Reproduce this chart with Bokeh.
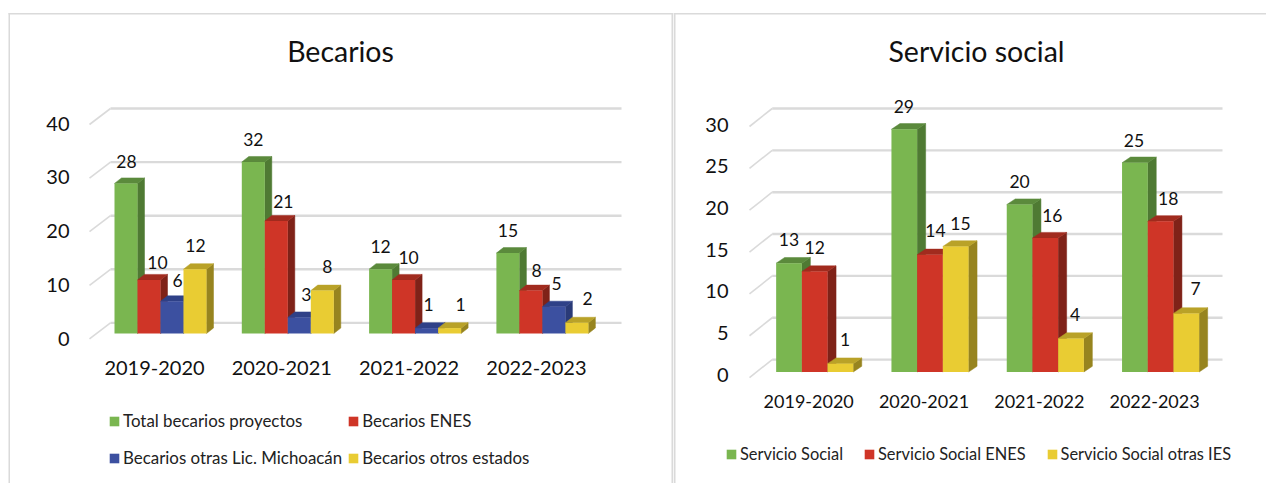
from bokeh.core.properties import value
from bokeh.embed import file_html
from bokeh.layouts import row
from bokeh.models import (BoxAnnotation, FixedTicker, Legend, LegendItem,
                          LinearAxis, Range1d)
from bokeh.plotting import figure
from bokeh.resources import INLINE

# ---------- data ----------
YEARS = ["2019-2020", "2020-2021", "2021-2022", "2022-2023"]

TOTAL_BECARIOS = [28, 32, 12, 15]
BECARIOS_ENES = [10, 21, 10, 8]
BECARIOS_MICH = [6, 3, 1, 5]
BECARIOS_ESTADOS = [12, 8, 1, 2]

SERVICIO = [13, 29, 20, 25]
SERVICIO_ENES = [12, 14, 16, 18]
SERVICIO_IES = [1, 15, 4, 7]

BECARIOS_NAMES = ["Total becarios proyectos", "Becarios ENES",
                  "Becarios otras Lic. Michoacán", "Becarios otros estados"]
SERVICIO_NAMES = ["Servicio Social", "Servicio Social ENES", "Servicio Social otras IES"]

BECARIOS_TICKS = [0, 10, 20, 30, 40]
SERVICIO_TICKS = [0, 5, 10, 15, 20, 25, 30]

# ---------- style ----------
FONT = "Lato"
GRID = "#dadada"
GREEN = ("#7ab650", "#4f7a33", "#5b8a3c")
RED = ("#cf3527", "#7f2218", "#a12b1e")
BLUE = ("#3c50a0", "#2a3a78", "#2f4188")
YELLOW = ("#e9cc33", "#97841f", "#b9a228")

# label shifts from a bar's top centre, in pixels (series by series)
BEC_SHIFT = [[(0.5, -22), (0, -22.5), (0, -22.7), (0, -22.6)],
             [(8.5, -17), (7, -19.5), (5, -22.4), (5.6, -20.6)],
             [(5.5, -21), (7, -23), (2, -24), (2.6, -23)],
             [(0.5, -24), (5, -24), (11, -24), (10.6, -23.8)]]
SER_SHIFT = [[(0, -23.7), (-0.5, -23), (0, -23.4), (-1, -22)],
             [(0, -24.4), (5.4, -24.3), (7, -22.6), (7.6, -23)],
             [(4.7, -24), (4.7, -23.3), (4, -24), (9.3, -24.6)]]

TOP = 0
BOTTOM = 483


def panel(title, title_x, left, right, series, names, colors, shifts, ticks,
          cx0, group_px, bar_px, depth, base, unit, tick_base, tick_unit,
          grid_x, grid_dy, tick_right, tick_size, year_y, year_size, legend_kw, legend_xy,
          border):
    p = figure(width=right - left, height=BOTTOM - TOP, output_backend="svg",
               toolbar_location=None, x_axis_type=None, y_axis_type=None, tools="",
               min_border=0, outline_line_color=None,
               background_fill_color="white", border_fill_color="white",
               x_range=Range1d((left - cx0) / group_px, (right - cx0) / group_px),
               y_range=Range1d((base - BOTTOM) / unit, (base - TOP) / unit))

    # y / x axes sit slightly apart from the bars' plane, as in a 3D chart
    p.extra_y_ranges = {"axis": Range1d((tick_base - BOTTOM) / tick_unit, (tick_base - TOP) / tick_unit)}
    p.extra_x_ranges = {"axis": Range1d((left - cx0 + 6) / group_px, (right - cx0 + 6) / group_px)}

    px_x = lambda x: (x - cx0) / group_px
    px_y = lambda y: (base - y) / unit

    p.text(x=[px_x(title_x)], y=[px_y(50.5)], text=[title], text_font=value(FONT),
           text_font_size="28.5px", text_color="#111111", text_align="center",
           text_baseline="middle")

    # back wall gridlines
    x_front, x_back, x_end = grid_x
    dy_front, dy_back = grid_dy
    p.multi_line([[px_x(x_front), px_x(x_back)] for _ in ticks],
                 [[t - dy_front / unit, t - dy_back / unit] for t in ticks],
                 line_color=GRID, line_width=1.6)
    p.multi_line([[px_x(x_back), px_x(x_end)] for _ in ticks],
                 [[t - dy_back / unit, t - dy_back / unit] for t in ticks],
                 line_color=GRID, line_width=2.4)

    # 3D bars
    n = len(series)
    w = bar_px / group_px
    ddx, ddy = depth[0] / group_px, depth[1] / unit
    items = []
    for s, (vals, name, col) in enumerate(zip(series, names, colors)):
        xc = [g + (s - (n - 1) / 2) * w for g in range(len(vals))]
        right_edge = [c + w / 2 for c in xc]
        left_edge = [c - w / 2 for c in xc]
        p.patches([[r, r, r + ddx, r + ddx] for r in right_edge],
                  [[0, v, v + ddy, ddy] for v in vals],
                  fill_color=col[1], line_color=col[1], line_width=0.5)
        p.patches([[l, r, r + ddx, l + ddx] for l, r in zip(left_edge, right_edge)],
                  [[v, v, v + ddy, v + ddy] for v in vals],
                  fill_color=col[2], line_color=col[2], line_width=0.5)
        front = p.vbar(x=xc, top=vals, bottom=0, width=w, fill_color=col[0],
                       line_color=None)
        items.append(LegendItem(label=name, renderers=[front]))

    # value labels drawn last so bars never hide them
    for s, vals in enumerate(series):
        xc = [g + (s - (n - 1) / 2) * w for g in range(len(vals))]
        p.text(x=xc, y=vals, text=[str(v) for v in vals],
               x_offset=[d[0] for d in shifts[s]], y_offset=[d[1] for d in shifts[s]],
               text_font=value(FONT), text_font_size="17.5px", text_color="#111111",
               text_align="center", text_baseline="middle")

    yax = LinearAxis(y_range_name="axis", fixed_location=px_x(tick_right),
                     ticker=FixedTicker(ticks=ticks), axis_line_color=None,
                     major_tick_line_color=None, minor_tick_line_color=None,
                     major_tick_in=0, major_tick_out=0, major_label_standoff=0,
                     major_label_text_font=FONT, major_label_text_font_size=tick_size,
                     major_label_text_color="#111111")
    p.add_layout(yax, "left")

    xax = LinearAxis(x_range_name="axis", fixed_location=px_y(year_y),
                     ticker=FixedTicker(ticks=list(range(len(YEARS)))),
                     major_label_overrides={i: y for i, y in enumerate(YEARS)},
                     axis_line_color=None, major_tick_line_color=None,
                     minor_tick_line_color=None, major_tick_in=0, major_tick_out=0,
                     major_label_standoff=0, major_label_text_font=FONT,
                     major_label_text_font_size=year_size, major_label_text_color="#111111")
    p.add_layout(xax, "below")

    legend = Legend(items=items, location=(legend_xy[0] - left, BOTTOM - legend_xy[1]),
                    orientation="horizontal", glyph_width=12, glyph_height=12,
                    label_standoff=3, padding=0, margin=0, border_line_color=None,
                    background_fill_alpha=0, label_text_font=FONT,
                    label_text_color="#222222", **legend_kw)
    p.add_layout(legend)

    for box in border:
        p.add_layout(BoxAnnotation(left=box[0] - left, right=box[1] - left,
                                   top=box[2], bottom=box[3],
                                   left_units="canvas", right_units="canvas",
                                   top_units="canvas", bottom_units="canvas",
                                   fill_color=GRID, fill_alpha=1, line_color=None))
    return p


p1 = panel("Becarios", 340, 0, 673,
           [TOTAL_BECARIOS, BECARIOS_ENES, BECARIOS_MICH, BECARIOS_ESTADOS],
           BECARIOS_NAMES, [GREEN, RED, BLUE, YELLOW], BEC_SHIFT, BECARIOS_TICKS,
           160, 127.3, 23, (7, 5.5), 333, 5.36, 338, 5.375,
           (89, 110, 621), (5.4, -10.6), 69, "20px", 360, "20px",
           dict(ncols=2, spacing=5, label_height=32, label_text_font_size="16.9px"),
           (108, 473.5),
           [(8, 673, 12.5, 14), (8, 9.5, 12.5, 483), (671, 673, 12.5, 483)])

p2 = panel("Servicio social", 976, 673, 1266,
           [SERVICIO, SERVICIO_ENES, SERVICIO_IES],
           SERVICIO_NAMES, [GREEN, RED, YELLOW], SER_SHIFT, SERVICIO_TICKS,
           929.5 - 115.3, 115.3, 25.7, (8.5, 5.7), 371.5, 8.37, 374, 8.333,
           (749, 771.7, 1222), (5.6, -12.4), 728, "20px", 394.7, "18px",
           dict(ncols=3, spacing=20, label_text_font_size="16.4px"),
           (725, 463),
           [(673, 1266, 12.5, 14), (673, 675, 12.5, 483)])

root = row(p1, p2, spacing=0)
open("out.html", "w").write(file_html(root, INLINE))
